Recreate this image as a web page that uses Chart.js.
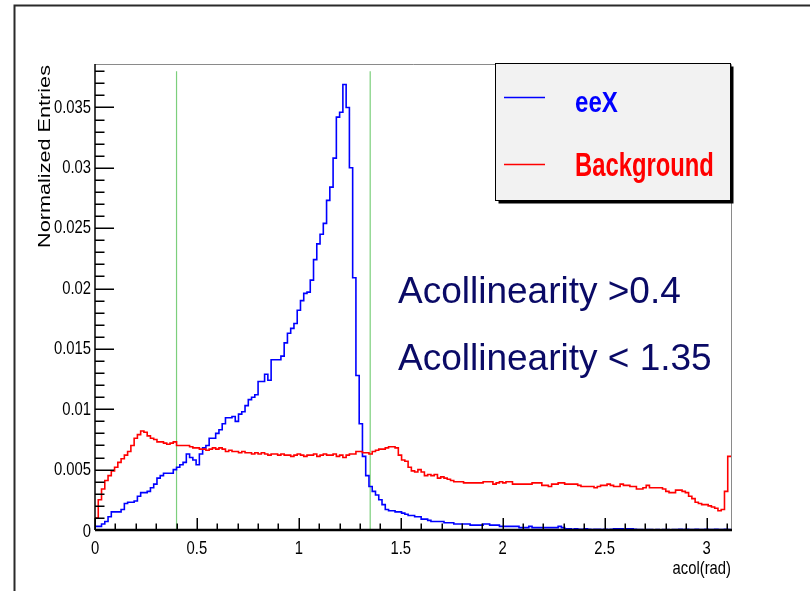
<!DOCTYPE html>
<html>
<head>
<meta charset="utf-8">
<title>Acollinearity</title>
<script src="https://cdn.jsdelivr.net/npm/chart.js@4.4.1/dist/chart.umd.min.js"></script>
<style>
    html, body { margin: 0; padding: 0; background: #fff; }
    #wrap { position: relative; width: 810px; height: 591px; }
</style>
</head>
<body>
<div id="wrap"><canvas id="acol" width="810" height="591"></canvas></div>
<script>
// ----------------------
// Data
// ----------------------
const binWidth = 0.016;   // rad per bin
const xMax = 3.12;
const yMax = 0.0386;

// eeX signal, normalized entries per bin
const eeX = [
    0.0003, 0.0003, 0.0005, 0.0007, 0.0011, 0.0015, 0.0015, 0.0015, 0.0017, 0.0022,
    0.0023, 0.0023, 0.0024, 0.0028, 0.0031, 0.0031, 0.0032, 0.0035, 0.0038, 0.0043,
    0.0045, 0.0047, 0.0047, 0.0047, 0.0050, 0.0052, 0.0054, 0.0056, 0.0063, 0.0060,
    0.0058, 0.0054, 0.0063, 0.0068, 0.0070, 0.0076, 0.0076, 0.0080, 0.0083, 0.0088,
    0.0093, 0.0093, 0.0094, 0.0090, 0.0096, 0.0098, 0.0103, 0.0108, 0.0110, 0.0112,
    0.0123, 0.0123, 0.0129, 0.0124, 0.0141, 0.0141, 0.0141, 0.0144, 0.0155, 0.0163,
    0.0167, 0.0171, 0.0182, 0.0190, 0.0196, 0.0197, 0.0207, 0.0224, 0.0237, 0.0245,
    0.0254, 0.0273, 0.0284, 0.0308, 0.0342, 0.0346, 0.0369, 0.0350, 0.0300, 0.0209,
    0.0128, 0.0088, 0.0061, 0.0045, 0.0036, 0.0032, 0.0029, 0.0025, 0.0021, 0.0017,
    0.0016, 0.0016, 0.0015, 0.0015, 0.0014, 0.0013, 0.0012, 0.0012, 0.0011, 0.0011,
    0.0009, 0.0009, 0.0008, 0.0007, 0.0007, 0.0007, 0.0007, 0.0006, 0.0006, 0.0006,
    0.0005, 0.0005, 0.0005, 0.0005, 0.0005, 0.0004, 0.0004, 0.0004, 0.0004, 0.0005,
    0.0005, 0.0004, 0.0004, 0.0004, 0.0003, 0.0003, 0.0003, 0.0003, 0.0003, 0.0003,
    0.0002, 0.0002, 0.0002, 0.0003, 0.0002, 0.0002, 0.0002, 0.0002, 0.0002, 0.0002,
    0.0002, 0.0002, 0.0003, 0.0002, 0.0001, 0.0001, 0.00005, 0.0001, 0.00005, 0.00005,
    0.0001, 0.00005, 0.00003, 0.00005, 0.00005, 0.00003, 0.00005, 0.00003, 0.00005, 0.0001,
    0.0001, 0.0001, 0.00005, 0.0001, 0.0001, 0.00005, 0.00003, 0.00003, 0.00002, 0.00003,
    0.00003, 0.00002, 0.00003, 0.00002, 0.00003, 0.00003, 0.00002, 0.00003, 0.00004, 0.00005,
    0.00004, 0.00005, 0.00004, 0.00004, 0.00005, 0.00004, 0.00004, 0.00005, 0.00004, 0.00004,
    0.00005, 0.00004, 0.00004, 0.00005, 0.00004
];

// background, normalized entries per bin
const background = [
    0.0010, 0.0025, 0.0034, 0.0041, 0.0045, 0.0049, 0.0052, 0.0056, 0.0059, 0.0062,
    0.0065, 0.0070, 0.0076, 0.0079, 0.0082, 0.0081, 0.0078, 0.0076, 0.0075, 0.0073,
    0.0073, 0.0072, 0.0071, 0.0072, 0.0073, 0.0070, 0.0070, 0.0070, 0.0070, 0.0069,
    0.0068, 0.0068, 0.0067, 0.0067, 0.0066, 0.0067, 0.0068, 0.0067, 0.0068, 0.0067,
    0.0065, 0.0066, 0.0065, 0.0065, 0.0064, 0.0065, 0.0064, 0.0064, 0.0063, 0.0064,
    0.0063, 0.0064, 0.0063, 0.0062, 0.0063, 0.0063, 0.0062, 0.0063, 0.0062, 0.0062,
    0.0061, 0.0062, 0.0063, 0.0062, 0.0061, 0.0062, 0.0062, 0.0063, 0.0061, 0.0062,
    0.0063, 0.0062, 0.0062, 0.0063, 0.0061, 0.0062, 0.0060, 0.0062, 0.0063, 0.0063,
    0.0065, 0.0065, 0.0064, 0.0064, 0.0063, 0.0065, 0.0066, 0.0067, 0.0067, 0.0068,
    0.0069, 0.0069, 0.0068, 0.0062, 0.0058, 0.0057, 0.0052, 0.0049, 0.0048, 0.0050,
    0.0048, 0.0045, 0.0046, 0.0045, 0.0046, 0.0043, 0.0044, 0.0043, 0.0042, 0.0041,
    0.0040, 0.0040, 0.0040, 0.0039, 0.0039, 0.0039, 0.0039, 0.0039, 0.0039, 0.0040,
    0.0040, 0.0040, 0.0038, 0.0039, 0.0040, 0.0039, 0.0040, 0.0040, 0.0038, 0.0038,
    0.0038, 0.0038, 0.0038, 0.0038, 0.0039, 0.0039, 0.0039, 0.0037, 0.0037, 0.0036,
    0.0038, 0.0038, 0.0039, 0.0039, 0.0038, 0.0038, 0.0038, 0.0038, 0.0037, 0.0036,
    0.0036, 0.0036, 0.0036, 0.0035, 0.0036, 0.0037, 0.0037, 0.0038, 0.0037, 0.0036,
    0.0036, 0.0038, 0.0037, 0.0037, 0.0036, 0.0036, 0.0034, 0.0034, 0.0035, 0.0037,
    0.0035, 0.0035, 0.0035, 0.0035, 0.0034, 0.0032, 0.0031, 0.0031, 0.0033, 0.0033,
    0.0032, 0.0031, 0.0028, 0.0026, 0.0023, 0.0022, 0.0021, 0.0021, 0.0020, 0.0019,
    0.0018, 0.0016, 0.0017, 0.0032, 0.0061
];

// selection cuts (green lines)
const cutValues = [0.4, 1.35];
const cutTop = 0.038;

// axis ticks
const xTickStep = 0.5;
const xMinorStep = 0.1;
const yTickStep = 0.005;
const yMinorStep = 0.001;

const xTitle = 'acol(rad)';
const yTitle = 'Normalized Entries';
const cutText = ['Acollinearity >0.4', 'Acollinearity < 1.35'];

const sans = "'Liberation Sans', Arial, Helvetica, sans-serif";

// ----------------------
// Helpers
// ----------------------
// turn per-bin values into step points: left edge of every bin + closing edge
function histPoints(values) {
    const pts = [{ x: 0, y: 0 }];
    values.forEach((v, i) => pts.push({ x: i * binWidth, y: v }));
    pts.push({ x: values.length * binWidth, y: values[values.length - 1] });
    return pts;
}

function fmt(v) {
    return String(+v.toFixed(3));
}

// text squeezed sideways (the ROOT picture was stretched vertically)
function squeezed(ctx, text, x, y, font, sx, align) {
    ctx.save();
    ctx.translate(x, y);
    ctx.scale(sx, 1);
    ctx.font = font;
    ctx.textAlign = align || 'left';
    ctx.fillText(text, 0, 0);
    ctx.restore();
}

// ----------------------
// ROOT-like frame, inward ticks, labels, legend and text
// ----------------------
const rootStyle = {
    id: 'rootStyle',
    afterDraw(chart) {
        const { ctx, chartArea: a, scales: { x, y } } = chart;
        ctx.save();

        // outer pad border
        ctx.strokeStyle = '#2a2a2a';
        ctx.lineWidth = 2;
        ctx.beginPath();
        ctx.moveTo(14.5, 591);
        ctx.lineTo(14.5, 5.5);
        ctx.lineTo(810, 5.5);
        ctx.stroke();

        // top / right frame
        ctx.strokeStyle = '#8a8a8a';
        ctx.lineWidth = 1;
        ctx.beginPath();
        ctx.moveTo(a.left, a.top + 0.5);
        ctx.lineTo(a.right + 0.5, a.top + 0.5);
        ctx.lineTo(a.right + 0.5, a.bottom);
        ctx.stroke();

        // axes
        ctx.strokeStyle = '#000';
        ctx.lineWidth = 1.5;
        ctx.beginPath();
        ctx.moveTo(a.left, a.top);
        ctx.lineTo(a.left, a.bottom);
        ctx.stroke();
        ctx.lineWidth = 2.5;
        ctx.beginPath();
        ctx.moveTo(a.left, a.bottom);
        ctx.lineTo(a.right + 1, a.bottom);
        ctx.stroke();

        // inward ticks on y
        ctx.lineWidth = 1.5;
        ctx.beginPath();
        for (let k = 0; k * yMinorStep <= yMax; k++) {
            const py = Math.round(y.getPixelForValue(k * yMinorStep)) + 0.25;
            const len = (k % Math.round(yTickStep / yMinorStep) === 0) ? 19 : 9.5;
            ctx.moveTo(a.left, py);
            ctx.lineTo(a.left + len, py);
        }
        // inward ticks on x
        for (let k = 0; k * xMinorStep <= xMax; k++) {
            const px = Math.round(x.getPixelForValue(k * xMinorStep)) + 0.25;
            const len = (k % Math.round(xTickStep / xMinorStep) === 0) ? 12 : 6.5;
            ctx.moveTo(px, a.bottom);
            ctx.lineTo(px, a.bottom - len);
        }
        ctx.stroke();

        // tick labels, taken from the chart's own ticks
        ctx.fillStyle = '#000';
        ctx.textBaseline = 'middle';
        y.ticks.forEach(t => {
            const py = y.getPixelForValue(t.value) + (t.value === 0 ? 2 : 0);
            squeezed(ctx, fmt(t.value), 91, py, `19px ${sans}`, 0.78, 'right');
        });
        ctx.textBaseline = 'alphabetic';
        x.ticks.forEach(t => {
            squeezed(ctx, fmt(t.value), x.getPixelForValue(t.value), 553.5, `19px ${sans}`, 0.78, 'center');
        });

        // axis titles
        squeezed(ctx, xTitle, a.right, 574, `19px ${sans}`, 0.78, 'right');
        ctx.save();
        ctx.translate(50, a.top + 1);
        ctx.rotate(-Math.PI / 2);
        ctx.font = `16px ${sans}`;
        const stretch = 183 / ctx.measureText(yTitle).width;
        squeezed(ctx, yTitle, 0, 0, `16px ${sans}`, stretch, 'right');
        ctx.restore();

        // text on the plot
        ctx.fillStyle = '#0a0a66';
        ctx.font = `37px ${sans}`;
        ctx.textAlign = 'left';
        ctx.fillText(cutText[0], 398, 303);
        ctx.fillText(cutText[1], 398, 370);

        // legend box with shadow
        const box = { l: 495.5, t: 63.5, r: 730.5, b: 200.5 };
        ctx.fillStyle = '#000';
        ctx.fillRect(box.l + 3, box.t + 3, box.r - box.l, box.b - box.t);
        ctx.fillStyle = '#f2f2f2';
        ctx.fillRect(box.l, box.t, box.r - box.l, box.b - box.t);
        ctx.strokeStyle = '#000';
        ctx.lineWidth = 1;
        ctx.strokeRect(box.l, box.t, box.r - box.l, box.b - box.t);

        const rows = [
            { lineY: 97.5, baseY: 112, size: 29, sx: 0.83 },
            { lineY: 164.5, baseY: 175.5, size: 34, sx: 0.70 }
        ];
        chart.data.datasets.filter(d => d.histo).forEach((d, i) => {
            const r = rows[i];
            ctx.strokeStyle = d.borderColor;
            ctx.lineWidth = 1.5;
            ctx.beginPath();
            ctx.moveTo(504, r.lineY);
            ctx.lineTo(545, r.lineY);
            ctx.stroke();

            ctx.fillStyle = d.borderColor;
            squeezed(ctx, d.label, 575, r.baseY, `bold ${r.size}px ${sans}`, r.sx, 'left');
        });

        ctx.restore();
    }
};

// ----------------------
// Chart
// ----------------------
const datasets = [
    {
        label: 'eeX',
        histo: true,
        data: histPoints(eeX),
        borderColor: '#0000ff',
        borderWidth: 1.6,
        stepped: true,
        pointRadius: 0,
        fill: false,
        order: 2
    },
    {
        label: 'Background',
        histo: true,
        data: histPoints(background),
        borderColor: '#ff0000',
        borderWidth: 1.6,
        stepped: true,
        pointRadius: 0,
        fill: false,
        order: 1
    }
];
cutValues.forEach(c => {
    datasets.push({
        label: 'cut ' + c,
        data: [{ x: c, y: 0 }, { x: c, y: cutTop }],
        borderColor: '#7ccf7c',
        borderWidth: 1.2,
        pointRadius: 0,
        fill: false,
        order: 3
    });
});

new Chart(document.getElementById('acol'), {
    type: 'line',
    data: { datasets },
    plugins: [rootStyle],
    options: {
        responsive: false,
        animation: false,
        devicePixelRatio: 1,
        layout: { padding: { top: 64, right: 79, left: 0, bottom: 0 } },
        plugins: {
            legend: { display: false },
            tooltip: { enabled: false }
        },
        scales: {
            x: {
                type: 'linear',
                min: 0,
                max: xMax,
                grid: { display: false, drawTicks: false },
                border: { display: false },
                ticks: { display: false, stepSize: xTickStep, includeBounds: false, autoSkip: false },
                afterFit: s => { s.height = 61; }
            },
            y: {
                type: 'linear',
                min: 0,
                max: yMax,
                grid: { display: false, drawTicks: false },
                border: { display: false },
                ticks: { display: false, stepSize: yTickStep, includeBounds: false, autoSkip: false },
                afterFit: s => { s.width = 95; }
            }
        }
    }
});
</script>
</body>
</html>
